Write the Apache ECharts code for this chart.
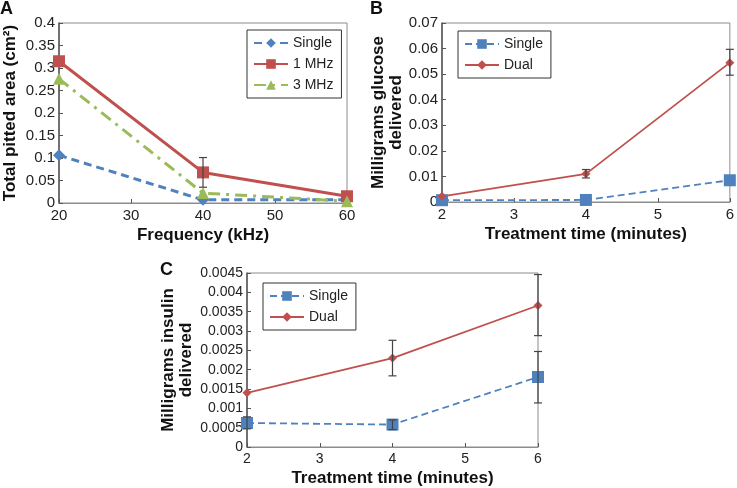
<!DOCTYPE html>
<html><head><meta charset="utf-8">
<script src="https://cdn.jsdelivr.net/npm/echarts@6/dist/echarts.min.js"></script>
<style>html,body{margin:0;padding:0;background:#fff}#c{width:737px;height:488px}</style>
</head><body><div id="c"></div>
<script>
// Panel A
const freq = [20, 40, 60];
const aSingle = [0.106, 0.007, 0.007];
const a1MHz = [0.315, 0.068, 0.015];
const a3MHz = [0.276, 0.022, 0.004];
const a1MHzErr = [[40, 0.035, 0.101]];
// Panel B
const timeB = [2, 4, 6];
const bSingle = [0.0007, 0.0008, 0.0085];
const bDual = [0.0022, 0.011, 0.0545];
const bDualErr = [[4, 0.0094, 0.0127], [6, 0.0496, 0.0597]];
// Panel C
const timeC = [2, 4, 6];
const cSingle = [0.00062, 0.00058, 0.00181];
const cDual = [0.0014, 0.0023, 0.00366];
const cSingleErr = [[2, 0.00047, 0.00078], [4, 0.00045, 0.0007], [6, 0.00114, 0.00247]];
const cDualErr = [[4, 0.00184, 0.00276], [6, 0.00288, 0.00446]];

const BLUE = '#4F81BD', RED = '#C0504D', GREEN = '#9BBB59';
const FONT = 'Liberation Sans';
const zip = (xs, ys) => xs.map((x, i) => [x, ys[i]]);

const grids = [
  {left: 57, top: 23, width: 290, height: 180},
  {left: 442, top: 23, width: 290, height: 179},
  {left: 247, top: 273, width: 291, height: 174}
];
grids.forEach(g => { g.show = true; g.borderColor = '#8c8c8c'; g.borderWidth = 1; g.backgroundColor = 'transparent'; });

function xAxis(gi, min, max, interval, name, fs, gap) {
  return {
    type: 'value', gridIndex: gi, min, max, interval,
    name, nameLocation: 'middle', nameGap: gap,
    nameTextStyle: {fontFamily: FONT, fontWeight: 'bold', fontSize: 17, color: '#111'},
    axisLine: {show: true, lineStyle: {color: '#8c8c8c', width: 1}},
    axisTick: {show: true, inside: true, length: 4, lineStyle: {color: '#555'}},
    axisLabel: {fontFamily: FONT, fontSize: fs, color: '#222', margin: 5},
    splitLine: {show: false}
  };
}
function yAxis(gi, min, max, interval, name, gap, fs) {
  return {
    type: 'value', gridIndex: gi, min, max, interval,
    name, nameLocation: 'middle', nameGap: gap, nameRotate: 90,
    nameTextStyle: {fontFamily: FONT, fontWeight: 'bold', fontSize: 17, color: '#111', lineHeight: 18},
    axisLine: {show: true, lineStyle: {color: '#555', width: 1.5}},
    axisTick: {show: true, inside: true, length: 4, lineStyle: {color: '#555'}},
    axisLabel: {fontFamily: FONT, fontSize: fs, color: '#222', margin: 4},
    splitLine: {show: false}
  };
}

function lineSeries(name, gi, xs, ys, color, width, dash, symbol, size) {
  return {
    type: 'line', name, xAxisIndex: gi, yAxisIndex: gi,
    data: zip(xs, ys), symbol, symbolSize: size,
    lineStyle: {color, width, type: dash},
    itemStyle: {color},
    z: 3
  };
}
function errSeries(gi, data) {
  return {
    type: 'custom', xAxisIndex: gi, yAxisIndex: gi, data, z: 4,
    renderItem: (params, api) => {
      const x = api.value(0);
      const lo = api.coord([x, api.value(1)]);
      const hi = api.coord([x, api.value(2)]);
      const w = 4;
      const st = {stroke: '#444', lineWidth: 1.2};
      return {type: 'group', children: [
        {type: 'line', shape: {x1: lo[0], y1: lo[1], x2: hi[0], y2: hi[1]}, style: st},
        {type: 'line', shape: {x1: lo[0]-w, y1: lo[1], x2: lo[0]+w, y2: lo[1]}, style: st},
        {type: 'line', shape: {x1: hi[0]-w, y1: hi[1], x2: hi[0]+w, y2: hi[1]}, style: st}
      ]};
    }
  };
}
function legend(left, top, names) {
  return {
    orient: 'vertical', left, top, data: names,
    formatter: n => n.slice(2),
    itemWidth: 34, itemHeight: 12, itemGap: 7,
    padding: [6, 8, 6, 6],
    borderColor: '#333', borderWidth: 1,
    textStyle: {fontFamily: FONT, fontSize: 14, color: '#222'}
  };
}
const titleStyle = {fontFamily: FONT, fontWeight: 'bold', fontSize: 18, color: '#111'};

const option = {
  animation: false,
  backgroundColor: '#fff',
  title: [
    {text: 'A', left: 0, top: 0, padding: 0, textStyle: titleStyle},
    {text: 'B', left: 370, top: 0, padding: 0, textStyle: titleStyle},
    {text: 'C', left: 160, top: 261, padding: 0, textStyle: titleStyle}
  ],
  grid: grids,
  xAxis: [
    xAxis(0, 20, 60, 10, 'Frequency (kHz)', 15, 24),
    xAxis(1, 2, 6, 1, 'Treatment time (minutes)', 15, 24),
    xAxis(2, 2, 6, 1, 'Treatment time (minutes)', 14, 23)
  ],
  yAxis: [
    yAxis(0, 0, 0.4, 0.05, 'Total pitted area (cm²)', 40, 15),
    yAxis(1, 0, 0.07, 0.01, 'Milligrams glucose\ndelivered', 35, 15),
    yAxis(2, 0, 0.0045, 0.0005, 'Milligrams insulin\ndelivered', 52, 14)
  ],
  legend: [
    legend(247, 30, ['A-Single', 'A-1 MHz', 'A-3 MHz']),
    legend(458, 31, ['B-Single', 'B-Dual']),
    legend(263, 283, ['C-Single', 'C-Dual'])
  ],
  series: [
    lineSeries('A-Single', 0, freq, aSingle, BLUE, 3, [8, 5], 'diamond', 12),
    lineSeries('A-1 MHz', 0, freq, a1MHz, RED, 3, 'solid', 'rect', 12),
    lineSeries('A-3 MHz', 0, freq, a3MHz, GREEN, 3, [12, 6, 3, 6], 'triangle', 12),
    errSeries(0, a1MHzErr),
    lineSeries('B-Single', 1, timeB, bSingle, BLUE, 1.8, [7, 4], 'rect', 12),
    lineSeries('B-Dual', 1, timeB, bDual, RED, 1.8, 'solid', 'diamond', 9),
    errSeries(1, bDualErr),
    lineSeries('C-Single', 2, timeC, cSingle, BLUE, 1.8, [7, 4], 'rect', 12),
    lineSeries('C-Dual', 2, timeC, cDual, RED, 1.8, 'solid', 'diamond', 9),
    errSeries(2, cSingleErr),
    errSeries(2, cDualErr)
  ]
};
echarts.init(document.getElementById('c'), null, {renderer: 'canvas'}).setOption(option);
</script></body></html>
